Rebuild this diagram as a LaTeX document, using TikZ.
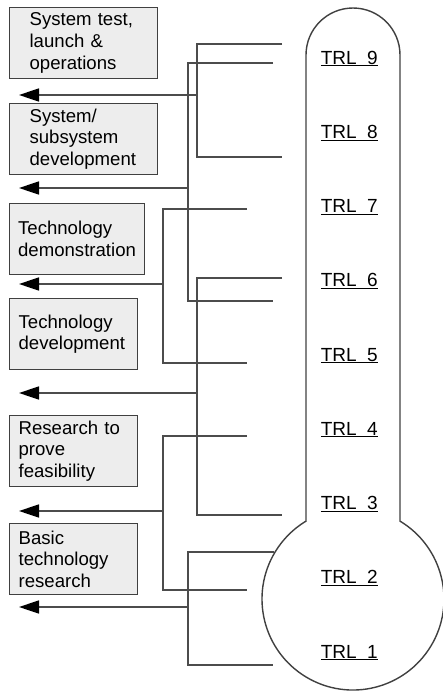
\documentclass[tikz,border=0pt]{standalone}
\usepackage{fontspec}
\setmainfont{Liberation Sans}
\usetikzlibrary{arrows.meta}
\hyphenpenalty=10000

\begin{document}
\begin{tikzpicture}[x=1pt,y=-1pt,line width=1.6pt,draw=black!70,
  stage/.style={draw=black!75,fill=black!7,line width=1.2pt,align=left,anchor=north west,
    font=\fontsize{18.6}{21.7}\selectfont,minimum height=71pt,inner ysep=0pt},
  trl/.style={anchor=base west,inner sep=0pt,font=\fontsize{19}{23}\selectfont},
  feed/.style={-{Triangle[length=20pt,width=13pt,color=black]}}]
  \useasboundingbox (0,0) rectangle (443,691);
  % thermometer: tube with round top, bulb at the bottom
  \draw[black!75,line width=1.4pt] (306,521.1) -- (306,55) arc (180:360:47) -- (400,521.1)
    arc (-58.9:238.9:91) -- cycle;
  % levels
  \node[trl] (trl9) at (320,64) {\underline{TRL\ \ 9}};
  \node[trl] (trl8) at (320,138.25) {\underline{TRL\ \ 8}};
  \node[trl] (trl7) at (320,212.5) {\underline{TRL\ \ 7}};
  \node[trl] (trl6) at (320,286.75) {\underline{TRL\ \ 6}};
  \node[trl] (trl5) at (320,361) {\underline{TRL\ \ 5}};
  \node[trl] (trl4) at (320,435.25) {\underline{TRL\ \ 4}};
  \node[trl] (trl3) at (320,509.5) {\underline{TRL\ \ 3}};
  \node[trl] (trl2) at (320,583.75) {\underline{TRL\ \ 2}};
  \node[trl] (trl1) at (320,658) {\underline{TRL\ \ 1}};
  % stages of development
  \node[stage,inner xsep=20pt,text width=108pt] (launch) at (9,7)
    {System test,\\launch \&\\operations};
  \node[stage,inner xsep=20pt,text width=108pt] (subsys) at (9,103)
    {System/\\subsystem\\development};
  \node[stage,inner xsep=8.5pt,text width=118pt] (demo) at (9,203)
    {Technology\\demonstration};
  \node[stage,inner xsep=9pt,text width=110pt] (devel) at (9,298)
    {Technology\\development};
  \node[stage,inner xsep=9pt,text width=110pt] (proof) at (9,415)
    {Research to\\prove\\feasibility};
  \node[stage,inner xsep=9pt,text width=110pt] (basic) at (9,523)
    {Basic\\technology\\research};
  % brackets over the levels, each with an arrow out to the left
  \draw (282,44) -- (197,44) -- (197,157) -- (282,157);
  \draw[feed] (197,95) coordinate (fork9) -- (19,95) coordinate (out9);
  \draw (273,63) -- (188,63) -- (188,301) -- (273,301);
  \draw[feed] (188,188) coordinate (fork7) -- (19,188) coordinate (out7);
  \draw (247,209) -- (163,209) -- (163,363) -- (247,363);
  \draw[feed] (163,284) coordinate (fork6) -- (19,284) coordinate (out6);
  \draw (282,278) -- (197,278) -- (197,515) -- (282,515);
  \draw[feed] (197,393) coordinate (fork4) -- (19,393) coordinate (out4);
  \draw (247,436) -- (163,436) -- (163,590) -- (247,590);
  \draw[feed] (163,511) coordinate (fork3) -- (19,511) coordinate (out3);
  \draw (274,552) -- (188,552) -- (188,665) -- (273,665);
  \draw[feed] (188,607) coordinate (fork1) -- (19,607) coordinate (out1);
\end{tikzpicture}
\end{document}
